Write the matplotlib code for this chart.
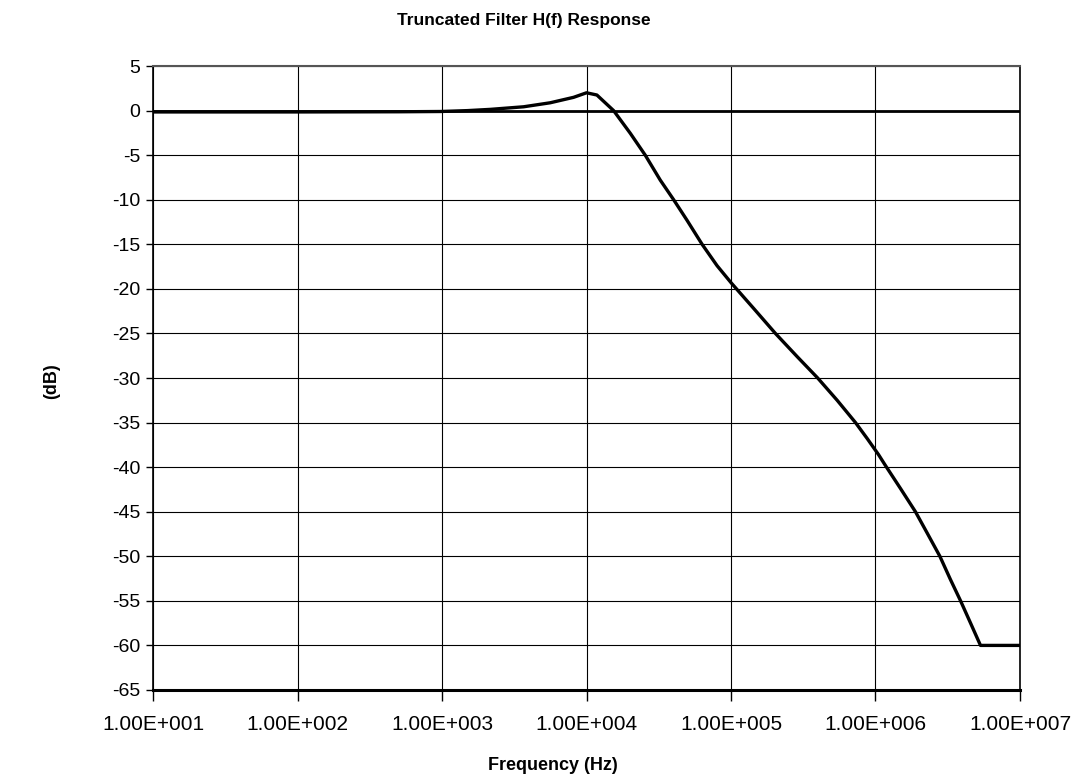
import numpy as np
import matplotlib.pyplot as plt
from matplotlib.ticker import FixedLocator, FuncFormatter, NullLocator

plt.rcParams['font.family'] = ['Liberation Sans', 'DejaVu Sans']

# response (Hz, dB)
freq_hz = [10, 100, 500, 973, 1500, 2160, 3670, 5610, 8140, 10000, 11800,
           15400, 20100, 25500, 32400, 40100, 49600, 63100, 80100,
           100000, 143600, 203000, 287000, 398000, 543000, 727000,
           877000, 1050000, 1170000, 1490000, 1890000, 2280000, 2790000,
           3300000, 3880000, 4550000, 5330000, 10000000]
gain_db = [-0.15, -0.15, -0.13, -0.1, 0.0, 0.14, 0.43, 0.88, 1.49, 2.0, 1.75,
           0.0, -2.55, -5.0, -7.8, -10.0, -12.3, -15.0, -17.4,
           -19.3, -22.2, -25.0, -27.6, -30.0, -32.5, -35.0,
           -36.8, -38.6, -39.8, -42.4, -45.0, -47.4, -50.0,
           -52.6, -55.0, -57.5, -60.0, -60.0]

x_ticks = [1e1, 1e2, 1e3, 1e4, 1e5, 1e6, 1e7]
y_ticks = list(range(-65, 6, 5))

fig = plt.figure(figsize=(10.74, 7.77), dpi=100)
ax = fig.add_axes([0.1425, 0.112, 0.8072, 0.803])

ax.set_xscale('log')
ax.set_xlim(1e1, 1e7)
ax.set_ylim(-65, 5)

ax.xaxis.set_major_locator(FixedLocator(x_ticks))
ax.xaxis.set_minor_locator(NullLocator())
ax.xaxis.set_major_formatter(FuncFormatter(
    lambda v, p: '1.00E+%03d' % int(round(np.log10(v)))))
ax.yaxis.set_major_locator(FixedLocator(y_ticks))
ax.yaxis.set_major_formatter(FuncFormatter(lambda v, p: '%d' % v))

ax.grid(True, which='major', color='black', linewidth=0.8)
ax.axhline(0, color='black', linewidth=2.0, zorder=2)
ax.plot(freq_hz, gain_db, color='black', linewidth=2.4, zorder=3,
        solid_joinstyle='round')

for side in ['left', 'right']:
    ax.spines[side].set_linewidth(1.2)
ax.spines['top'].set_color('#555555')
ax.spines['top'].set_linewidth(1.5)
ax.spines['bottom'].set_linewidth(2.2)

ax.tick_params(axis='y', direction='out', length=5, width=1, labelsize=14, pad=4)
ax.tick_params(axis='x', direction='out', length=8, width=1, labelsize=15, pad=10)

fig.text(0.4874, 0.973, 'Truncated Filter H(f) Response', ha='center',
         va='center', fontsize=12.5, fontweight='bold')
fig.text(0.515, 0.015, 'Frequency (Hz)', ha='center', va='center',
         fontsize=13, fontweight='bold')
fig.text(0.048, 0.51, '(dB)', ha='center', va='center', rotation=90,
         fontsize=13, fontweight='bold')

fig.savefig('out.png', dpi=100)
